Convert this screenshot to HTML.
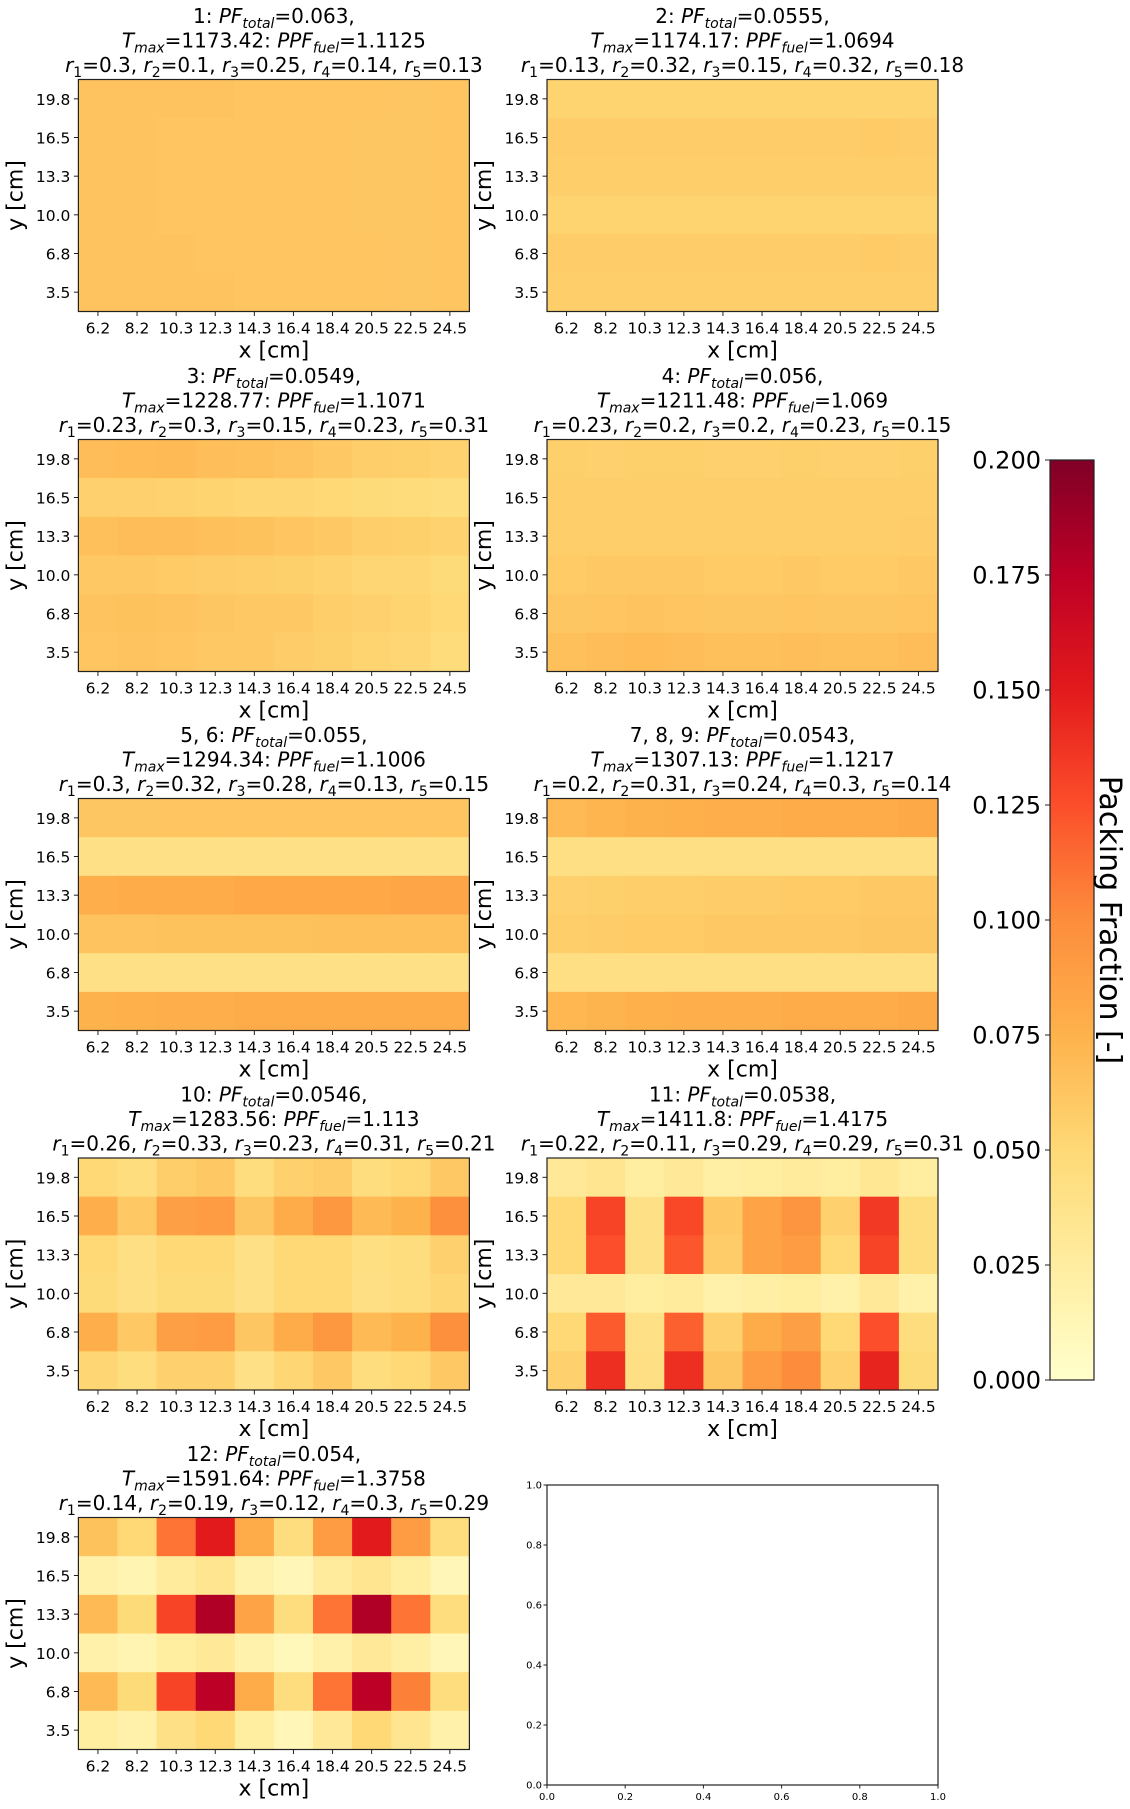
<!DOCTYPE html>
<html><head><meta charset="utf-8"><style>
body{margin:0;background:#fff}
svg{display:block;font-family:"DejaVu Sans","Liberation Sans",sans-serif}
</style></head><body>
<svg id="fig" width="1130" height="1809" viewBox="0 0 1130 1809" xmlns="http://www.w3.org/2000/svg"></svg>
<script>
const xTicks=["6.2","8.2","10.3","12.3","14.3","16.4","18.4","20.5","22.5","24.5"];
const yTicks=["19.8","16.5","13.3","10.0","6.8","3.5"];
const cbTicks=[0,0.025,0.05,0.075,0.1,0.125,0.15,0.175,0.2];
const titles1=["1: ","2: ","3: ","4: ","5, 6: ","7, 8, 9: ","10: ","11: ","12: "];
const pfTotal=["0.063","0.0555","0.0549","0.056","0.055","0.0543","0.0546","0.0538","0.054"];
const tMax=["1173.42","1174.17","1228.77","1211.48","1294.34","1307.13","1283.56","1411.8","1591.64"];
const ppfFuel=["1.1125","1.0694","1.1071","1.069","1.1006","1.1217","1.113","1.4175","1.3758"];
const radii=[[0.3,0.1,0.25,0.14,0.13],[0.13,0.32,0.15,0.32,0.18],[0.23,0.3,0.15,0.23,0.31],[0.23,0.2,0.2,0.23,0.15],[0.3,0.32,0.28,0.13,0.15],[0.2,0.31,0.24,0.3,0.14],[0.26,0.33,0.23,0.31,0.21],[0.22,0.11,0.29,0.29,0.31],[0.14,0.19,0.12,0.3,0.29]];
const pf1=[[.064,.064,.064,.064,.063,.063,.063,.063,.062,.063],[.064,.064,.063,.063,.063,.063,.063,.062,.062,.063],[.064,.064,.063,.063,.063,.063,.063,.062,.062,.063],[.064,.064,.063,.063,.063,.063,.063,.062,.062,.063],[.064,.064,.064,.063,.063,.063,.063,.063,.062,.063],[.064,.064,.064,.064,.063,.063,.063,.063,.062,.063]];
const pf2=[[.053,.053,.053,.053,.053,.053,.053,.053,.053,.053],[.058,.058,.058,.058,.058,.058,.058,.058,.059,.058],[.057,.057,.057,.057,.057,.057,.057,.057,.057,.057],[.053,.053,.053,.053,.053,.053,.053,.053,.053,.053],[.058,.058,.058,.058,.058,.058,.058,.058,.059,.058],[.057,.057,.057,.057,.057,.057,.057,.057,.057,.057]];
const pf3=[[.068,.069,.07,.067,.066,.064,.06,.057,.056,.054],[.055,.055,.054,.053,.052,.052,.05,.048,.047,.045],[.066,.068,.068,.066,.065,.063,.06,.057,.056,.054],[.06,.06,.059,.058,.057,.056,.054,.052,.051,.048],[.064,.065,.064,.062,.061,.06,.057,.055,.053,.05],[.063,.064,.063,.061,.06,.058,.056,.053,.051,.047]];
const pf4=[[.056,.055,.056,.056,.055,.055,.056,.055,.055,.056],[.057,.057,.057,.057,.057,.057,.057,.057,.057,.057],[.057,.057,.057,.057,.057,.057,.057,.057,.057,.058],[.059,.06,.06,.06,.059,.059,.06,.059,.059,.06],[.062,.063,.064,.063,.062,.062,.063,.062,.062,.063],[.066,.068,.069,.068,.066,.066,.067,.066,.066,.068]];
const pf5=[[.062,.062,.063,.063,.063,.063,.063,.063,.063,.063],[.04,.04,.04,.04,.04,.04,.04,.04,.04,.04],[.078,.079,.08,.08,.082,.082,.082,.082,.083,.083],[.064,.064,.065,.065,.065,.065,.066,.066,.066,.066],[.04,.04,.04,.04,.04,.04,.04,.04,.04,.04],[.075,.076,.077,.078,.079,.079,.08,.08,.08,.08]];
const pf6=[[.07,.073,.075,.076,.078,.078,.079,.08,.08,.081],[.042,.042,.042,.042,.042,.042,.042,.042,.042,.042],[.055,.056,.057,.057,.058,.058,.059,.059,.06,.06],[.057,.058,.059,.059,.06,.06,.061,.061,.062,.062],[.042,.042,.042,.042,.042,.042,.042,.042,.042,.042],[.072,.074,.076,.077,.078,.078,.079,.08,.08,.081]];
const pf10=[[.05,.045,.057,.06,.045,.055,.058,.045,.05,.06],[.078,.06,.088,.09,.062,.08,.093,.07,.075,.098],[.05,.042,.05,.05,.04,.05,.05,.043,.045,.055],[.048,.042,.048,.048,.04,.05,.05,.042,.045,.052],[.078,.06,.088,.09,.062,.08,.093,.07,.075,.098],[.052,.045,.055,.055,.04,.052,.06,.045,.05,.06]];
const pf11=[[.03,.035,.025,.03,.022,.025,.028,.025,.032,.025],[.05,.13,.04,.128,.06,.085,.095,.055,.135,.045],[.05,.125,.04,.122,.058,.085,.09,.05,.13,.045],[.03,.03,.025,.028,.02,.022,.025,.02,.03,.02],[.05,.12,.04,.118,.055,.08,.088,.05,.125,.045],[.055,.14,.042,.14,.062,.09,.1,.055,.145,.048]];
const pf12=[[.065,.05,.11,.15,.08,.045,.09,.15,.09,.045],[.02,.015,.028,.035,.018,.012,.028,.035,.025,.012],[.07,.048,.13,.18,.085,.045,.11,.18,.11,.045],[.02,.015,.025,.03,.018,.01,.02,.03,.022,.012],[.07,.048,.13,.175,.08,.045,.11,.175,.105,.045],[.025,.02,.04,.05,.025,.012,.03,.05,.035,.02]];
const emptyTicks=["0.0","0.2","0.4","0.6","0.8","1.0"];
const grids=[pf1,pf2,pf3,pf4,pf5,pf6,pf10,pf11,pf12];

const NS="http://www.w3.org/2000/svg";
const svg=document.getElementById('fig');
function mk(tag,attrs,parent){const e=document.createElementNS(NS,tag);for(const k in attrs)e.setAttribute(k,attrs[k]);(parent||svg).appendChild(e);return e;}
const stops=["#ffffcc","#ffeda0","#fed976","#feb24c","#fd8d3c","#fc4e2a","#e31a1c","#bd0026","#800026"];
function hex(h){return [1,3,5].map(i=>parseInt(h.substr(i,2),16));}
function cmap(v){let t=Math.max(0,Math.min(1,v/0.2))*8;let i=Math.min(7,Math.floor(t));let f=t-i;const a=hex(stops[i]),b=hex(stops[i+1]);return "rgb("+a.map((c,k)=>Math.round(c+(b[k]-c)*f)).join(",")+")";}

const colX=[78.4,547];const W=391,H=232;
const rowY=[79.5,439.5,798.5,1158,1517.5];
function addTitle(g,cx,top,i){
  const r=radii[i];
  const l1=mk('text',{x:cx,y:top-56.5,'text-anchor':'middle','font-size':20},g);
  l1.innerHTML=titles1[i]+'<tspan font-style="italic">PF</tspan><tspan font-style="italic" font-size="14" dy="5">total</tspan><tspan dy="-5">='+pfTotal[i]+',</tspan>';
  const l2=mk('text',{x:cx,y:top-32,'text-anchor':'middle','font-size':20},g);
  l2.innerHTML='<tspan font-style="italic">T</tspan><tspan font-style="italic" font-size="14" dy="5">max</tspan><tspan dy="-5">='+tMax[i]+': </tspan><tspan font-style="italic">PPF</tspan><tspan font-style="italic" font-size="14" dy="5">fuel</tspan><tspan dy="-5">='+ppfFuel[i]+'</tspan>';
  const l3=mk('text',{x:cx,y:top-7.5,'text-anchor':'middle','font-size':20},g);
  l3.innerHTML=r.map((v,k)=>'<tspan font-style="italic">r</tspan><tspan font-size="14" dy="5">'+(k+1)+'</tspan><tspan dy="-5">='+v+(k<4?', ':'')+'</tspan>').join('');
}
grids.forEach((grid,i)=>{
  const x0=colX[i%2],y0=rowY[Math.floor(i/2)];
  const g=mk('g',{});
  
  
  const cw=W/xTicks.length,ch=H/yTicks.length;
  grid.forEach((row,ri)=>row.forEach((v,ci)=>{
    const c=mk('rect',{x:x0+ci*cw,y:y0+ri*ch,width:cw+0.6,height:ch+0.6,fill:cmap(v)},g);
    
    
  }));
  mk('rect',{x:x0,y:y0,width:W,height:H,fill:'none',stroke:'#222','stroke-width':1.2},g);
  xTicks.forEach((t,k)=>{const x=x0+(k+0.5)*cw;mk('line',{x1:x,x2:x,y1:y0+H,y2:y0+H+4.5,stroke:'#222'},g);const tx=mk('text',{x:x,y:y0+H+22,'text-anchor':'middle','font-size':15.5},g);tx.textContent=t;});
  yTicks.forEach((t,k)=>{const y=y0+(k+0.5)*ch;mk('line',{x1:x0-4.5,x2:x0,y1:y,y2:y,stroke:'#222'},g);const tx=mk('text',{x:x0-8,y:y+6,'text-anchor':'end','font-size':15.5},g);tx.textContent=t;});
  const xl=mk('text',{x:x0+W/2,y:y0+H+46,'text-anchor':'middle','font-size':22},g);xl.textContent='x [cm]';
  
  const yl=mk('text',{x:0,y:0,'text-anchor':'middle','font-size':22,transform:'translate('+(x0-56)+','+(y0+H/2)+') rotate(-90)'},g);yl.textContent='y [cm]';
  
  addTitle(g,x0+W/2,y0,i);
});
(function(){
  const x0=547,y0=1485,w=391,h=300;
  const g=mk('g',{});
  
  
  mk('rect',{x:x0,y:y0,width:w,height:h,fill:'none',stroke:'#222','stroke-width':1.2},g);
  emptyTicks.forEach((t,k)=>{const x=x0+k/5*w,y=y0+h-k/5*h;
    mk('line',{x1:x,x2:x,y1:y0+h,y2:y0+h+3.5,stroke:'#222'},g);
    mk('line',{x1:x0-3.5,x2:x0,y1:y,y2:y,stroke:'#222'},g);
    const a=mk('text',{x:x,y:y0+h+15,'text-anchor':'middle','font-size':10},g);a.textContent=t;
    const b=mk('text',{x:x0-5,y:y+3.5,'text-anchor':'end','font-size':10},g);b.textContent=t;});
})();
(function(){
  const x0=1050,y0=460,w=44,h=920;
  const g=mk('g',{});
  
  
  const defs=mk('defs',{},g);
  const lg=mk('linearGradient',{id:'cbg',x1:0,y1:1,x2:0,y2:0},defs);
  stops.forEach((s,k)=>mk('stop',{offset:k/8,'stop-color':s},lg));
  mk('rect',{x:x0,y:y0,width:w,height:h,fill:'url(#cbg)',stroke:'#222','stroke-width':1.2},g);
  cbTicks.forEach(v=>{const y=y0+h-v/0.2*h;mk('line',{x1:x0-5,x2:x0,y1:y,y2:y,stroke:'#222'},g);
    const t=mk('text',{x:x0-9,y:y+8.5,'text-anchor':'end','font-size':24},g);t.textContent=v.toFixed(3);});
  const lbl=mk('text',{x:0,y:0,'text-anchor':'middle','font-size':30,transform:'translate(1100,'+(y0+h/2)+') rotate(90)'},g);
  lbl.textContent='Packing Fraction [-]';
  
  
})();
</script>
</body></html>
